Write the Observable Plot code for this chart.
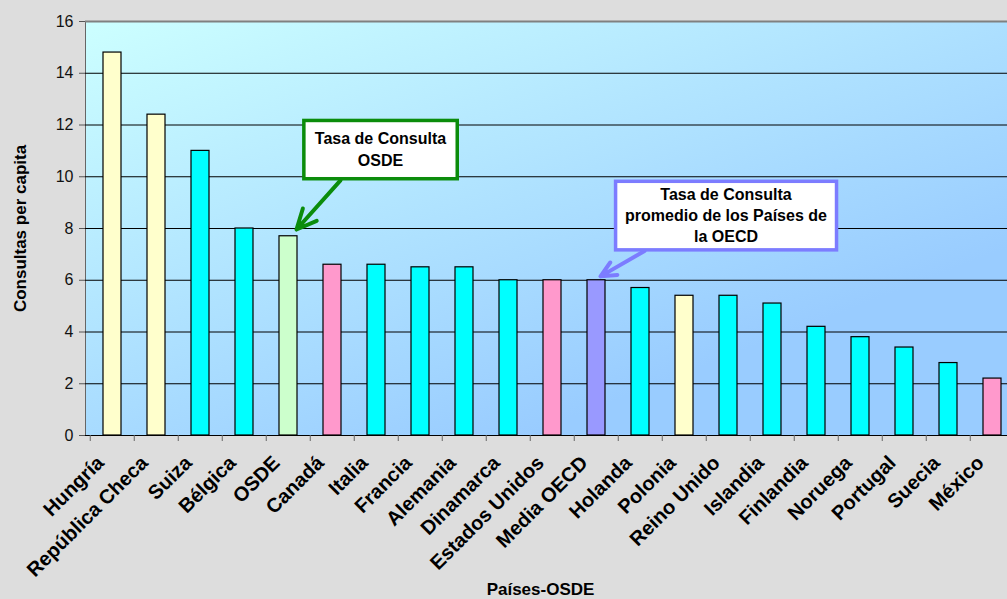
<!DOCTYPE html>
<html>
<head>
<meta charset="utf-8">
<script src="https://cdn.jsdelivr.net/npm/d3@7"></script>
<script src="https://cdn.jsdelivr.net/npm/@observablehq/plot@0.6"></script>
<style>
  html, body { margin: 0; padding: 0; background: #dddddd; overflow: hidden; }
  #chart { width: 1007px; height: 599px; overflow: hidden; }
  #chart svg { max-width: none !important; }
</style>
</head>
<body>
<div id="chart"></div>
<script>
const categories = ["Hungría", "República Checa", "Suiza", "Bélgica", "OSDE", "Canadá", "Italia", "Francia", "Alemania", "Dinamarca", "Estados Unidos", "Media OECD", "Holanda", "Polonia", "Reino Unido", "Islandia", "Finlandia", "Noruega", "Portugal", "Suecia", "México"];
const values = [14.8, 12.4, 11.0, 8.0, 7.7, 6.6, 6.6, 6.5, 6.5, 6.0, 6.0, 6.0, 5.7, 5.4, 5.4, 5.1, 4.2, 3.8, 3.4, 2.8, 2.2];
const colors = ["#ffffcc", "#ffffcc", "#00ffff", "#00ffff", "#ccffcc", "#ff99cc", "#00ffff", "#00ffff", "#00ffff", "#00ffff", "#ff99cc", "#9999ff", "#00ffff", "#ffffcc", "#00ffff", "#00ffff", "#00ffff", "#00ffff", "#00ffff", "#00ffff", "#ff99cc"];
const yTicks = [0, 2, 4, 6, 8, 10, 12, 14, 16];
const gridValues = [2, 4, 6, 8, 10, 12, 14];
const yTitle = "Consultas per capita";
const xTitle = "Países-OSDE";
const annotations = [
  {id: "anno-osde", text: "Tasa de Consulta\nOSDE", x: "Italia", y: 11.1, dx: 4, color: "#0b8c0b", padX: 11, padY: 10,
   from: {x: "Canadá", y: 9.86}, to: {x: "OSDE", y: 7.96}, arrowDx: 8},
  {id: "anno-oecd", text: "Tasa de Consulta\npromedio de los Países de\nla OECD", x: "Reino Unido", y: 8.55, dx: -2.5, color: "#7c7cff", padX: 9.5, padY: 4.5,
   from: {x: "Holanda", y: 7.13}, to: {x: "Media OECD", y: 6.15}, arrowDx: 4}
];

const data = categories.map((c, i) => ({pais: c, valor: values[i], color: colors[i]}));

const W = 1025, H = 599, mL = 85, mR = 6, mT = 21, mB = 164;
const step = (W - mL - mR) / categories.length;
const font = "'Liberation Sans', Arial, sans-serif";

const marks = [
  Plot.frame({fill: "url(#bgGrad)", stroke: "#666666"}),
  Plot.ruleY(gridValues, {stroke: "black", strokeWidth: 1}),
  Plot.ruleY([16], {stroke: "#808080", strokeWidth: 2}),
  Plot.barY(data, {x: "pais", y: "valor", fill: "color", stroke: "black", strokeWidth: 1.2}),
  Plot.ruleY([0], {stroke: "black", strokeWidth: 1}),
  Plot.ruleX(categories, {x: d => d, y1: 0, y2: 0, insetBottom: -6, dx: -step / 2, stroke: "#666666"}),
  Plot.axisY({ticks: yTicks, tickSize: 6, tickPadding: 6, fontSize: 16, label: null, stroke: "#555555", fill: "#111111"}),
  Plot.text(data, {x: "pais", y: 0, text: "pais", rotate: -45, textAnchor: "end", lineAnchor: "middle",
    fontWeight: "bold", fontSize: 20, dx: -12, dy: 24, fill: "black"}),
  Plot.text([yTitle], {frameAnchor: "left", text: d => d, rotate: -90, textAnchor: "middle", dx: -65,
    fontWeight: "bold", fontSize: 17, fill: "black"}),
  Plot.text([xTitle], {frameAnchor: "bottom", text: d => d, textAnchor: "middle", dx: -12, dy: 159,
    fontWeight: "bold", fontSize: 17, fill: "black", lineAnchor: "bottom"})
];

for (const a of annotations) {
  marks.push(Plot.arrow([a], {x1: d => d.from.x, y1: d => d.from.y, x2: d => d.to.x, y2: d => d.to.y,
    dx: a.arrowDx, stroke: a.color, strokeWidth: 4, headLength: 13, headAngle: 50}));
  marks.push(Plot.text([a], {x: "x", y: "y", text: "text", dx: a.dx, fontWeight: "bold", fontSize: 16,
    lineHeight: 1.33, lineAnchor: "middle", fill: "black", ariaLabel: d => d.id}));
}

const chart = Plot.plot({
  width: W, height: H,
  marginLeft: mL, marginRight: mR, marginTop: mT, marginBottom: mB,
  style: {fontFamily: font, background: "#dddddd", color: "black", overflow: "visible", maxWidth: "none"},
  x: {domain: categories, paddingInner: 0.58, paddingOuter: 0.29, axis: null},
  y: {domain: [0, 16], axis: null},
  marks
});

document.getElementById("chart").appendChild(chart);

const svg = d3.select(chart);
const defs = svg.insert("defs", ":first-child");
const grad = defs.append("linearGradient").attr("id", "bgGrad")
  .attr("x1", 0).attr("y1", 0).attr("x2", 0.7).attr("y2", 0.8);
grad.append("stop").attr("offset", 0).attr("stop-color", "#ccffff");
grad.append("stop").attr("offset", 1).attr("stop-color", "#99ccff");

for (const a of annotations) {
  let node = svg.select(`text[aria-label="${a.id}"]`).node();
  if (!node) {
    node = svg.selectAll("text").nodes().find(n => n.textContent.replace(/\s+/g, "") === a.text.replace(/\s+/g, ""));
  }
  if (!node) continue;
  const bb = node.getBBox();
  const tr = node.getAttribute("transform");
  const rect = document.createElementNS("http://www.w3.org/2000/svg", "rect");
  rect.setAttribute("x", bb.x - a.padX);
  rect.setAttribute("y", bb.y - a.padY);
  rect.setAttribute("width", bb.width + 2 * a.padX);
  rect.setAttribute("height", bb.height + 2 * a.padY);
  if (tr) rect.setAttribute("transform", tr);
  rect.setAttribute("fill", "white");
  rect.setAttribute("stroke", a.color);
  rect.setAttribute("stroke-width", 3.5);
  node.parentNode.insertBefore(rect, node);
}
</script>
</body>
</html>
